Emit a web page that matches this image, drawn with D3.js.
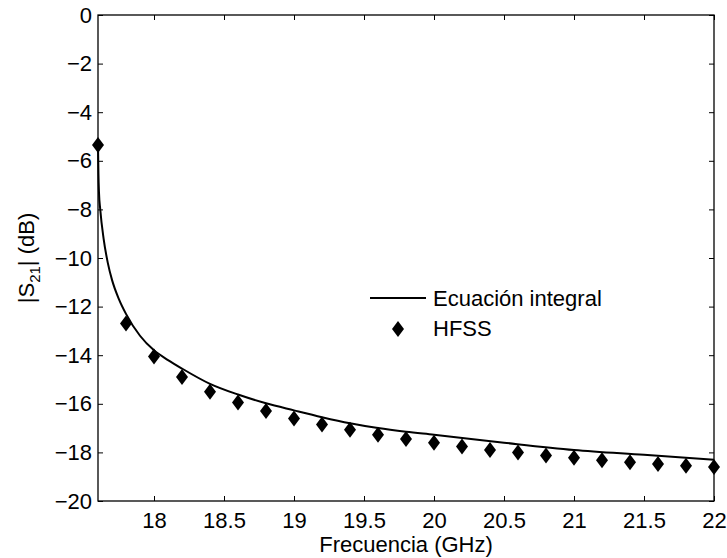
<!DOCTYPE html>
<html><head><meta charset="utf-8">
<script src="https://cdn.jsdelivr.net/npm/d3@7"></script>
<style>body{margin:0;background:#fff}svg{display:block}text{font-family:"Liberation Sans",Arial,sans-serif;fill:#000}</style>
</head><body>
<script>
const hfssFreq = [17.6,17.8,18.0,18.2,18.4,18.6,18.8,19.0,19.2,19.4,19.6,19.8,20.0,20.2,20.4,20.6,20.8,21.0,21.2,21.4,21.6,21.8,22.0];
const hfssDb = [-5.35,-12.7,-14.05,-14.9,-15.5,-15.95,-16.3,-16.6,-16.85,-17.07,-17.27,-17.45,-17.6,-17.76,-17.9,-18.0,-18.13,-18.22,-18.32,-18.41,-18.48,-18.55,-18.6];
const lineFreq = [17.6,17.603,17.607,17.616,17.64,17.67,17.7,17.75,17.8,17.9,18.0,18.1,18.2,18.4,18.6,18.8,19.0,19.2,19.4,19.6,19.8,20.0,20.5,21.0,21.5,22.0];
const lineDb = [-5.35,-6.5,-7.3,-8.0,-9.2,-10.2,-10.9,-11.7,-12.3,-13.2,-13.8,-14.2,-14.55,-15.18,-15.62,-15.98,-16.27,-16.55,-16.8,-17.0,-17.15,-17.27,-17.6,-17.9,-18.1,-18.3];
const xTicks = [18,18.5,19,19.5,20,20.5,21,21.5,22];
const yTicks = [0,-2,-4,-6,-8,-10,-12,-14,-16,-18,-20];
const seriesNames = ["Ecuación integral","HFSS"];

const W=727,H=558, L=98, R=714, T=15, B=501;
const FS="22px";
const svg=d3.select("body").append("svg").attr("width",W).attr("height",H);
const x=d3.scaleLinear().domain([17.6,22]).range([L,R]);
const y=d3.scaleLinear().domain([-20,0]).range([B,T]);
const tl=5;

const fmt=d=>d<0?"\u2212"+Math.abs(d):String(d);
const gx=svg.append("g").attr("transform",`translate(0,${B})`).call(d3.axisBottom(x).tickValues(xTicks).tickSize(-tl).tickPadding(11).tickFormat(d=>String(d)));
const gxt=svg.append("g").attr("transform",`translate(0,${T})`).call(d3.axisTop(x).tickValues(xTicks).tickSize(-tl).tickFormat(""));
const gy=svg.append("g").attr("transform",`translate(${L},0)`).call(d3.axisLeft(y).tickValues(yTicks).tickSize(-tl).tickPadding(6).tickFormat(fmt));
const gyr=svg.append("g").attr("transform",`translate(${R},0)`).call(d3.axisRight(y).tickValues(yTicks).tickSize(-tl).tickFormat(""));
[gx,gxt,gy,gyr].forEach(g=>{g.select(".domain").remove();g.selectAll(".tick line").attr("stroke","#000").attr("stroke-width",1);g.selectAll("text").style("font-size",FS).attr("fill","#000").style("font-family","Liberation Sans, Arial, sans-serif");});
svg.append("rect").attr("x",L).attr("y",T).attr("width",R-L).attr("height",B-T).attr("fill","none").attr("stroke","#000").attr("stroke-width",1.3);

svg.append("path").datum(lineFreq.map((f,i)=>[f,lineDb[i]]))
 .attr("d",d3.line().x(d=>x(d[0])).y(d=>y(d[1])).curve(d3.curveMonotoneX))
 .attr("fill","none").attr("stroke","#000").attr("stroke-width",2);

const diamond="M0,-8L6,0L0,8L-6,0Z";
svg.append("g").selectAll("path").data(hfssFreq).join("path")
 .attr("transform",(f,i)=>`translate(${x(f)},${y(hfssDb[i])})`).attr("d",diamond).attr("fill","#000");

const lg=svg.append("g");
lg.append("line").attr("x1",370).attr("x2",426).attr("y1",298).attr("y2",298).attr("stroke","#000").attr("stroke-width",2);
lg.append("text").attr("x",433).attr("y",306).style("font-size",FS).text(seriesNames[0]);
lg.append("path").attr("transform","translate(398,329)").attr("d",diamond).attr("fill","#000");
lg.append("text").attr("x",433).attr("y",336).style("font-size",FS).text(seriesNames[1]);

svg.append("text").attr("x",(L+R)/2).attr("y",552).attr("text-anchor","middle").style("font-size",FS).text("Frecuencia (GHz)");
const yl=svg.append("text").attr("transform",`translate(34,${(T+B)/2}) rotate(-90)`).attr("text-anchor","middle").style("font-size",FS);
yl.append("tspan").text("|S");
yl.append("tspan").attr("dy",6).style("font-size","15px").text("21");
yl.append("tspan").attr("dy",-6).text("| (dB)");
</script>
</body></html>
